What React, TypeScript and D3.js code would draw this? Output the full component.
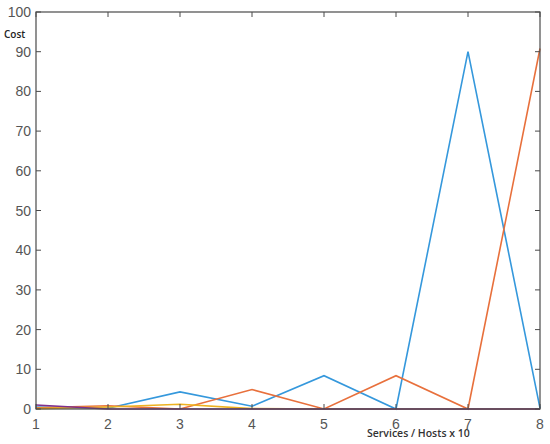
import React from "react";
import * as d3 from "d3";

const xValues = [1, 2, 3, 4, 5, 6, 7, 8];
const blueSeries = [0.5, 0.2, 4.3, 0.7, 8.4, 0, 90, 0.2];
const orangeSeries = [0.3, 0.8, 0, 4.9, 0, 8.4, 0, 90.8];
const yellowSeries = [0.1, 0.5, 1.2, 0.1, 0, 0, 0, 0];
const purpleSeries = [1.0, 0, 0, 0, 0, 0, 0, 0];
const seriesColors = ["#3598dc", "#e8703c", "#eeb220", "#7e2f8e"];
const xTicks = [1, 2, 3, 4, 5, 6, 7, 8];
const yTicks = [0, 10, 20, 30, 40, 50, 60, 70, 80, 90, 100];

const W = 550;
const H = 444;
const left = 36;
const right = 540;
const top = 12;
const bottom = 409;

export default function App() {
  const x = d3.scaleLinear().domain([1, 8]).range([left, right]);
  const y = d3.scaleLinear().domain([0, 100]).range([bottom, top]);
  const line = d3
    .line<number>()
    .x((_, i) => x(xValues[i]))
    .y((d) => y(d));
  const series = [blueSeries, orangeSeries, yellowSeries, purpleSeries];
  const axisColor = "#4a4a4a";
  const tickLen = 5;
  return (
    <svg
      width={W}
      height={H}
      style={{ position: "absolute", left: 0, top: 0, background: "#fff" }}
    >
      <rect x={0} y={0} width={W} height={H} fill="#fff" />
      {series.map((s, i) => (
        <path
          key={i}
          d={line(s) || ""}
          fill="none"
          stroke={seriesColors[i]}
          strokeWidth={1.6}
        />
      ))}
      <rect
        x={left}
        y={top}
        width={right - left}
        height={bottom - top}
        fill="none"
        stroke={axisColor}
        strokeWidth={1.2}
      />
      {xTicks.map((t) => (
        <g key={"x" + t}>
          <line x1={x(t)} x2={x(t)} y1={bottom} y2={bottom - tickLen} stroke={axisColor} />
          <line x1={x(t)} x2={x(t)} y1={top} y2={top + tickLen} stroke={axisColor} />
          <text
            x={x(t)}
            y={429}
            textAnchor="middle"
            fontFamily="Liberation Sans, Arial, sans-serif"
            fontSize={14}
            fill="#555"
          >
            {t}
          </text>
        </g>
      ))}
      {yTicks.map((t) => (
        <g key={"y" + t}>
          <line x1={left} x2={left + tickLen} y1={y(t)} y2={y(t)} stroke={axisColor} />
          <line x1={right} x2={right - tickLen} y1={y(t)} y2={y(t)} stroke={axisColor} />
          <text
            x={31}
            y={y(t) + 5}
            textAnchor="end"
            fontFamily="Liberation Sans, Arial, sans-serif"
            fontSize={14}
            fill="#555"
          >
            {t}
          </text>
        </g>
      ))}
      <text
        x={4}
        y={38}
        fontFamily="Open Sans, sans-serif"
        fontSize={10}
        fontWeight={600}
        fill="#222"
      >
        Cost
      </text>
      <text
        x={367}
        y={437}
        fontFamily="Open Sans, sans-serif"
        fontSize={10.5}
        fontWeight={600}
        fill="#333"
      >
        Services / Hosts x 10
      </text>
    </svg>
  );
}
